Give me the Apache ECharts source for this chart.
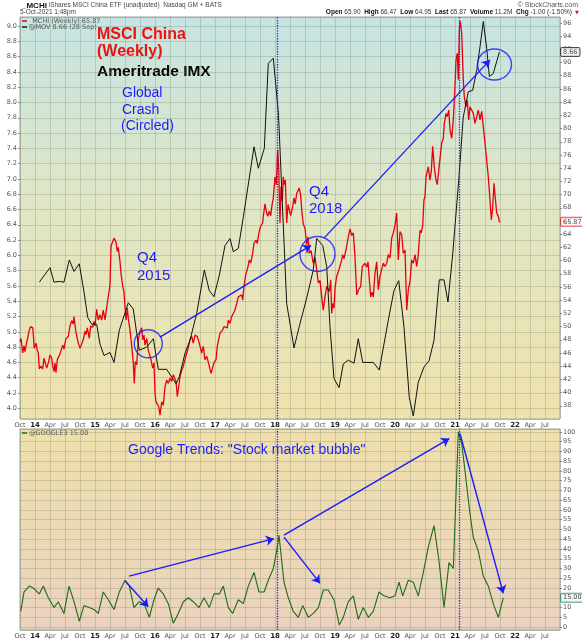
<!DOCTYPE html>
<html>
<head>
<meta charset="utf-8">
<script src="https://cdn.jsdelivr.net/npm/echarts@6/dist/echarts.min.js"></script>
<style>
  html, body { margin: 0; padding: 0; background: #fff; }
  #chart { width: 582px; height: 640px; }
</style>
</head>
<body>
<div id="chart"></div>
<script>
// MCHI weekly close (right scale), dates as decimal years
const redYears = [
  2013.750, 2013.767, 2013.795, 2013.817, 2013.833, 2013.858, 2013.883, 2013.905, 2013.928, 2013.962, 2013.972, 2013.988,
  2014.017, 2014.038, 2014.055, 2014.072, 2014.095, 2014.128, 2014.150, 2014.178, 2014.195, 2014.212, 2014.228, 2014.250,
  2014.278, 2014.295, 2014.317, 2014.333, 2014.350, 2014.372, 2014.405, 2014.428, 2014.462, 2014.483, 2014.500, 2014.517,
  2014.555, 2014.583, 2014.612, 2014.638, 2014.650, 2014.683, 2014.722, 2014.750, 2014.778, 2014.805, 2014.833, 2014.850,
  2014.872, 2014.905, 2014.928, 2014.962, 2014.983, 2015.000, 2015.028, 2015.055, 2015.083, 2015.112, 2015.138, 2015.167,
  2015.195, 2015.222, 2015.250, 2015.267, 2015.295, 2015.317, 2015.350, 2015.372, 2015.388, 2015.417, 2015.433, 2015.462,
  2015.483, 2015.500, 2015.517, 2015.538, 2015.555, 2015.583, 2015.612, 2015.638, 2015.655, 2015.672, 2015.695, 2015.722,
  2015.750, 2015.778, 2015.795, 2015.817, 2015.833, 2015.862, 2015.888, 2015.905, 2015.928, 2015.945, 2015.962, 2015.983,
  2016.000, 2016.017, 2016.038, 2016.062, 2016.083, 2016.112, 2016.138, 2016.167, 2016.195, 2016.222, 2016.250, 2016.278,
  2016.305, 2016.333, 2016.350, 2016.372, 2016.395, 2016.417, 2016.445, 2016.472, 2016.500, 2016.528, 2016.555, 2016.583,
  2016.612, 2016.638, 2016.667, 2016.705, 2016.738, 2016.778, 2016.805, 2016.833, 2016.862, 2016.905, 2016.933, 2016.955,
  2016.983, 2017.017, 2017.038, 2017.083, 2017.128, 2017.150, 2017.183, 2017.205, 2017.222, 2017.250, 2017.278, 2017.305,
  2017.333, 2017.362, 2017.388, 2017.417, 2017.445, 2017.462, 2017.483, 2017.517, 2017.538, 2017.572, 2017.595, 2017.628,
  2017.650, 2017.683, 2017.705, 2017.738, 2017.762, 2017.795, 2017.805, 2017.833, 2017.862, 2017.878, 2017.905, 2017.928,
  2017.950, 2017.972, 2018.000, 2018.022, 2018.045, 2018.062, 2018.083, 2018.100, 2018.122, 2018.138, 2018.155, 2018.172,
  2018.195, 2018.217, 2018.238, 2018.262, 2018.295, 2018.317, 2018.338, 2018.362, 2018.388, 2018.405, 2018.428, 2018.450,
  2018.472, 2018.500, 2018.528, 2018.550, 2018.572, 2018.600, 2018.638, 2018.667, 2018.695, 2018.722, 2018.750, 2018.778,
  2018.805, 2018.833, 2018.862, 2018.905, 2018.928, 2018.945, 2018.962, 2018.983, 2019.000, 2019.028, 2019.055, 2019.072,
  2019.112, 2019.128, 2019.150, 2019.183, 2019.222, 2019.250, 2019.278, 2019.305, 2019.333, 2019.362, 2019.388, 2019.428,
  2019.455, 2019.500, 2019.528, 2019.550, 2019.572, 2019.595, 2019.617, 2019.638, 2019.667, 2019.695, 2019.722, 2019.750,
  2019.778, 2019.805, 2019.833, 2019.862, 2019.888, 2019.917, 2019.945, 2019.972, 2020.000, 2020.028, 2020.055, 2020.083,
  2020.112, 2020.138, 2020.167, 2020.195, 2020.222, 2020.250, 2020.278, 2020.305, 2020.333, 2020.362, 2020.388, 2020.417,
  2020.438, 2020.462, 2020.483, 2020.500, 2020.517, 2020.555, 2020.583, 2020.605, 2020.628, 2020.655, 2020.683, 2020.705,
  2020.733, 2020.778, 2020.805, 2020.822, 2020.850, 2020.872, 2020.895, 2020.917, 2020.945, 2020.972, 2021.000, 2021.017,
  2021.038, 2021.055, 2021.072, 2021.088, 2021.112, 2021.138, 2021.155, 2021.183, 2021.205, 2021.228, 2021.250, 2021.278,
  2021.305, 2021.333, 2021.362, 2021.388, 2021.417, 2021.445, 2021.472, 2021.500, 2021.528, 2021.555, 2021.583, 2021.605,
  2021.628, 2021.650, 2021.672, 2021.695, 2021.722, 2021.738, 2021.760
]
const redValues = [
  47.7, 48.2, 46.0, 47.1, 46.2, 47.5, 48.5, 49.5, 50.0, 49.8, 48.7, 46.7,
  47.5, 46.4, 46.0, 43.6, 44.0, 43.6, 45.2, 45.2, 43.7, 44.0, 44.7, 45.7,
  45.2, 44.0, 43.2, 44.5, 43.0, 45.0, 45.6, 46.2, 47.2, 46.6, 47.5, 48.2,
  48.5, 50.1, 50.9, 50.4, 51.5, 49.1, 47.5, 46.7, 46.9, 48.0, 49.3, 48.8,
  49.8, 48.2, 50.1, 49.9, 50.8, 50.1, 52.6, 51.0, 51.8, 51.0, 52.5, 51.0,
  52.9, 52.7, 56.3, 62.2, 61.9, 63.4, 62.8, 61.4, 62.0, 59.8, 58.1, 56.1,
  55.3, 53.0, 51.0, 52.8, 51.2, 49.5, 47.0, 44.5, 41.4, 44.7, 44.2, 48.0,
  49.3, 49.8, 48.0, 48.7, 47.2, 48.2, 46.4, 46.7, 45.2, 45.5, 43.7, 44.5,
  39.9, 38.6, 38.9, 37.9, 36.6, 38.6, 38.1, 40.9, 41.9, 41.4, 42.2, 41.7,
  42.7, 42.4, 41.7, 39.4, 40.9, 42.4, 43.4, 44.0, 45.0, 46.0, 46.8, 48.0,
  48.5, 47.5, 48.7, 48.5, 47.5, 46.0, 47.0, 45.0, 45.5, 44.0, 42.9, 42.7,
  44.5, 45.0, 47.0, 49.0, 49.5, 50.0, 50.0, 49.8, 51.0, 50.5, 51.5, 51.8,
  52.5, 53.5, 54.5, 54.3, 54.8, 54.0, 56.1, 58.1, 58.6, 60.1, 59.6, 61.1,
  62.6, 63.1, 62.6, 64.5, 65.2, 65.7, 66.7, 68.6, 67.2, 66.7, 67.5, 66.8,
  68.4, 69.5, 72.7, 71.5, 76.8, 74.0, 65.7, 71.2, 69.0, 72.7, 71.5, 72.2,
  65.7, 68.5, 67.7, 66.8, 68.2, 69.5, 68.6, 70.2, 70.0, 71.0, 69.8, 67.2,
  65.5, 64.9, 62.4, 63.6, 61.1, 61.5, 59.6, 60.5, 58.6, 56.6, 57.0, 54.5,
  52.5, 54.5, 56.1, 55.3, 57.1, 52.0, 53.5, 52.8, 55.8, 57.6, 58.3, 58.6,
  60.1, 60.9, 60.3, 61.6, 63.6, 64.8, 63.8, 64.2, 60.6, 54.8, 55.5, 56.1,
  59.1, 59.6, 59.0, 59.8, 57.1, 54.5, 55.2, 54.5, 58.1, 59.8, 55.6, 57.6,
  57.8, 59.6, 59.1, 59.6, 60.9, 60.4, 63.4, 64.2, 65.4, 67.2, 60.1, 64.4,
  63.9, 61.1, 61.6, 52.5, 55.6, 56.8, 60.1, 59.6, 60.9, 59.1, 60.9, 64.6,
  64.2, 65.4, 69.2, 69.7, 72.7, 74.2, 72.2, 73.5, 77.3, 74.2, 72.2, 71.5,
  74.0, 77.8, 78.5, 80.8, 82.3, 81.8, 82.8, 79.8, 78.5, 81.3, 86.4, 90.4,
  91.4, 87.4, 94.9, 96.3, 94.4, 87.4, 84.8, 83.3, 84.3, 81.3, 83.3, 83.5,
  82.3, 80.8, 81.8, 82.8, 81.3, 82.6, 80.3, 77.8, 77.5, 72.7, 69.2, 66.2,
  68.0, 71.7, 71.6, 67.2, 66.7, 65.9, 65.87
]

// Ameritrade IMX (left scale)
const imxYears = [
  2014.072, 2014.250, 2014.317, 2014.405, 2014.483, 2014.572, 2014.650, 2014.738, 2014.817, 2014.878, 2014.945,
  2015.028, 2015.083, 2015.150, 2015.250, 2015.317, 2015.405, 2015.555, 2015.638, 2015.695, 2015.738, 2015.862, 2015.972,
  2016.055, 2016.195, 2016.278, 2016.350, 2016.405, 2016.500, 2016.583, 2016.695, 2016.822, 2016.905, 2016.983,
  2017.072, 2017.167, 2017.250, 2017.305, 2017.388, 2017.472, 2017.650, 2017.722, 2017.822, 2017.888, 2017.972,
  2018.058, 2018.195, 2018.317, 2018.417, 2018.528, 2018.638, 2018.695, 2018.795, 2018.862, 2018.917, 2018.983,
  2019.067, 2019.138, 2019.222, 2019.317, 2019.388, 2019.462, 2019.638, 2019.738, 2019.888, 2019.983,
  2020.062, 2020.150, 2020.238, 2020.305, 2020.388, 2020.483, 2020.567, 2020.650, 2020.738, 2020.817, 2020.883, 2020.962,
  2021.067, 2021.138, 2021.222, 2021.295, 2021.362, 2021.417, 2021.472, 2021.528, 2021.572, 2021.638, 2021.740
]
const imxValues = [
  5.65, 5.84, 5.65, 5.66, 5.65, 5.94, 5.79, 5.89, 5.52, 5.19, 5.10,
  5.10, 4.84, 4.69, 4.73, 4.60, 5.02, 5.38, 5.30, 4.98, 4.76, 4.80, 4.91,
  4.51, 4.51, 4.41, 4.32, 4.41, 4.72, 4.89, 5.24, 5.81, 5.54, 5.46,
  5.74, 6.13, 6.22, 6.05, 6.09, 6.50, 7.42, 7.14, 7.40, 8.51, 8.58,
  7.85, 5.37, 4.79, 5.11, 5.44, 5.81, 6.22, 6.13, 5.85, 5.06, 4.39,
  4.27, 4.58, 4.63, 4.59, 4.91, 4.60, 4.60, 4.50, 5.15, 5.54,
  5.67, 5.06, 4.14, 3.90, 4.34, 4.54, 4.62, 4.89, 5.68, 5.68, 5.39, 6.02,
  7.03, 7.81, 8.14, 8.16, 8.42, 8.73, 9.06, 8.71, 8.34, 8.38, 8.66
]

// Google Trends "stock market bubble"
const googleYears = [
  2013.762, 2013.817, 2013.905, 2013.972, 2014.072, 2014.138, 2014.222, 2014.317, 2014.388, 2014.483, 2014.567, 2014.650,
  2014.738, 2014.817, 2014.905, 2014.983, 2015.055, 2015.138, 2015.222, 2015.317, 2015.405, 2015.500, 2015.572, 2015.650,
  2015.738, 2015.817, 2015.905, 2015.983, 2016.055, 2016.138, 2016.222, 2016.305, 2016.388, 2016.472, 2016.555, 2016.638,
  2016.733, 2016.817, 2016.905, 2016.983, 2017.072, 2017.138, 2017.222, 2017.295, 2017.388, 2017.472, 2017.555, 2017.650,
  2017.733, 2017.817, 2017.888, 2017.972, 2018.028, 2018.067, 2018.150, 2018.222, 2018.305, 2018.388, 2018.462, 2018.555,
  2018.638, 2018.722, 2018.805, 2018.888, 2018.983, 2019.072, 2019.138, 2019.222, 2019.305, 2019.388, 2019.472, 2019.555,
  2019.638, 2019.733, 2019.817, 2019.917, 2020.000, 2020.067, 2020.128, 2020.222, 2020.305, 2020.388, 2020.472, 2020.555,
  2020.650, 2020.733, 2020.817, 2020.900, 2020.972, 2021.055, 2021.112, 2021.167, 2021.238, 2021.305, 2021.388, 2021.472,
  2021.555, 2021.638, 2021.722, 2021.805
]
const googleValues = [
  8, 18, 21, 20, 17, 21, 15, 10, 13, 7, 21, 13,
  3, 11, 10, 9, 7, 18, 14, 9, 18, 24, 21, 10,
  13, 12, 5, 14, 20, 17, 12, 2, 7, 13, 15, 13,
  10, 15, 10, 17, 17, 21, 10, 7, 14, 12, 21, 28,
  18, 18, 24, 30, 39, 47, 23, 15, 8, 5, 11, 5,
  7, 10, 19, 19, 14, 1, 5, 13, 16, 4, 10, 5,
  8, 18, 16, 15, 16, 23, 16, 24, 23, 16, 28, 41,
  52, 34, 10, 33, 30, 100, 94, 80, 61, 46, 39, 26,
  21, 12, 5, 15
]

// dotted marker dates
const markerYears = [2018.038, 2021.07]

// annotations (decimal year, value)
const circleYears = [2015.888, 2018.708, 2021.658]
const circleValues = [47.4, 61.0, 89.7]
const arrowsTop = [[2016.083, 48.4, 2018.60, 62.3], [2018.817, 63.4, 2021.583, 90.4]]
const arrowsBottom = [
  [2015.567, 26.1, 2017.983, 45.3],
  [2015.50, 23.7, 2015.888, 10.4],
  [2018.15, 47.1, 2020.905, 96.6],
  [2018.15, 46.1, 2018.75, 22.4],
  [2021.083, 99.2, 2021.805, 17.3]
]

const pairs = (xs, ys) => xs.map((x, i) => [x, ys[i]])
const BLUE = '#1a1aff'
const GRIDC = 'rgba(110,125,105,0.28)'
const LBL = '#555'
const FONT = 'DejaVu Sans'
const HFONT = 'Liberation Sans'

function quarterLabel (v) {
  const n = Math.round(v * 4)
  const q = ((n % 4) + 4) % 4
  const yr = (n - q) / 4
  if (q === 0) return '{yr|' + String(yr).slice(2) + '}'
  return ['', 'Apr', 'Jul', 'Oct'][q]
}

function xAxisFor (idx) {
  return {
    type: 'value',
    gridIndex: idx,
    min: 2013.75,
    max: 2022.75,
    interval: 0.25,
    axisLine: { show: false },
    axisTick: { show: false },
    axisLabel: {
      formatter: quarterLabel,
      showMaxLabel: false,
      color: LBL,
      fontSize: 6.5,
      fontFamily: FONT,
      margin: 3,
      rich: { yr: { fontWeight: 'bold', fontSize: 7, color: '#222', fontFamily: FONT } }
    },
    splitLine: { show: true, lineStyle: { color: GRIDC, width: 1 } }
  }
}

const yLabel = (fmt) => ({
  formatter: fmt,
  showMinLabel: false,
  showMaxLabel: false,
  color: LBL,
  fontSize: 6.5,
  fontFamily: FONT,
  margin: 3
})

const lastRed = redValues[redValues.length - 1]
const lastImx = imxValues[imxValues.length - 1]
const lastGoogle = googleValues[googleValues.length - 1]

function valueBox (xIdx, yIdx, val, border, bg) {
  return {
    type: 'scatter',
    xAxisIndex: xIdx,
    yAxisIndex: yIdx,
    data: [[2022.75, val]],
    symbolSize: 0,
    clip: false,
    silent: true,
    z: 10,
    label: {
      show: true,
      position: 'right',
      distance: 1,
      formatter: val.toFixed(2),
      backgroundColor: bg,
      borderColor: border,
      borderWidth: 1,
      borderRadius: 1,
      padding: [1, 2, 0, 2],
      fontSize: 6.5,
      fontFamily: FONT,
      color: '#112'
    }
  }
}

const markLineCfg = {
  silent: true,
  symbol: 'none',
  label: { show: false },
  lineStyle: { type: 'dotted', color: BLUE, width: 1.3 },
  data: markerYears.map(v => ({ xAxis: v }))
}

const chart = echarts.init(document.getElementById('chart'))
const option = {
  animation: false,
  textStyle: { fontFamily: FONT },
  grid: [
    {
      left: 20, right: 22, top: 17, height: 402,
      show: true,
      borderColor: '#9aa69a',
      borderWidth: 1,
      backgroundColor: {
        type: 'linear', x: 0, y: 0, x2: 0, y2: 1,
        colorStops: [
          { offset: 0, color: '#c6e4e2' },
          { offset: 0.45, color: '#dfe6c6' },
          { offset: 1, color: '#efe2ac' }
        ]
      }
    },
    {
      left: 20, right: 22, top: 429, height: 202,
      show: true,
      borderColor: '#9aa69a',
      borderWidth: 1,
      backgroundColor: {
        type: 'linear', x: 0, y: 0, x2: 0, y2: 1,
        colorStops: [
          { offset: 0, color: '#eee0ab' },
          { offset: 1, color: '#ebd2bf' }
        ]
      }
    }
  ],
  xAxis: [xAxisFor(0), xAxisFor(1)],
  yAxis: [
    {
      type: 'value', gridIndex: 0, position: 'left',
      min: 3.86, max: 9.118, splitNumber: 27,
      axisLine: { show: false },
      axisTick: { show: true, length: 2, lineStyle: { color: '#888' } },
      axisLabel: yLabel(v => v.toFixed(1)),
      splitLine: { show: true, lineStyle: { color: GRIDC } }
    },
    {
      type: 'value', gridIndex: 0, position: 'right',
      min: 36, max: 96.9, splitNumber: 30,
      axisLine: { show: false },
      axisTick: { show: true, length: 2, lineStyle: { color: '#888' } },
      axisLabel: yLabel(v => String(Math.round(v))),
      splitLine: { show: false }
    },
    {
      type: 'value', gridIndex: 1, position: 'right',
      min: -1.5, max: 101.5, splitNumber: 20,
      axisLine: { show: false },
      axisTick: { show: true, length: 2, lineStyle: { color: '#888' } },
      axisLabel: yLabel(v => String(Math.round(v))),
      splitLine: { show: true, lineStyle: { color: GRIDC } }
    }
  ],
  series: [
    {
      name: 'MCHI', type: 'line', xAxisIndex: 0, yAxisIndex: 1,
      data: pairs(redYears, redValues),
      showSymbol: false, symbol: 'none',
      lineStyle: { color: '#e8000c', width: 1.3 },
      z: 3,
      markLine: markLineCfg
    },
    {
      name: 'IMX', type: 'line', xAxisIndex: 0, yAxisIndex: 0,
      data: pairs(imxYears, imxValues),
      symbol: 'none',
      lineStyle: { color: '#111', width: 1 },
      z: 4
    },
    {
      name: 'Google', type: 'line', xAxisIndex: 1, yAxisIndex: 2,
      data: pairs(googleYears, googleValues),
      symbol: 'none',
      lineStyle: { color: '#1d6b12', width: 1.1 },
      z: 3,
      markLine: markLineCfg
    },
    {
      type: 'scatter', xAxisIndex: 0, yAxisIndex: 1,
      data: pairs(circleYears, circleValues),
      symbol: 'circle',
      symbolSize: (v, p) => [[28, 28], [35, 35], [34, 31]][p.dataIndex],
      itemStyle: { color: 'rgba(0,0,0,0)', borderColor: BLUE, borderWidth: 1.4 },
      silent: true,
      z: 6
    },
    {
      type: 'lines', coordinateSystem: 'cartesian2d', xAxisIndex: 0, yAxisIndex: 1,
      data: arrowsTop.map(a => ({ coords: [[a[0], a[1]], [a[2], a[3]]] })),
      symbol: ['none', 'arrow'], symbolSize: 8,
      lineStyle: { color: BLUE, width: 1.3, opacity: 1, curveness: 0 },
      silent: true, z: 6
    },
    {
      type: 'lines', coordinateSystem: 'cartesian2d', xAxisIndex: 1, yAxisIndex: 2,
      data: arrowsBottom.map(a => ({ coords: [[a[0], a[1]], [a[2], a[3]]] })),
      symbol: ['none', 'arrow'], symbolSize: 8,
      lineStyle: { color: BLUE, width: 1.4, opacity: 1, curveness: 0 },
      silent: true, z: 6
    },
    valueBox(0, 0, lastImx, '#222', '#f4f8f4'),
    valueBox(0, 1, lastRed, '#e02020', '#ffffff'),
    valueBox(1, 2, lastGoogle, '#2a8a70', '#f4fbf8')
  ],
  graphic: [
    // header
    {
      type: 'text', x: 22, y: 5.5,
      style: {
        text: '{b|_MCHI} iShares MSCI China ETF (unadjusted)  Nasdaq GM + BATS',
        textVerticalAlign: 'middle', fill: '#444', font: '6.5px "Liberation Sans"',
        rich: { b: { fontWeight: 'bold', fontSize: 8, fill: '#111', fontFamily: HFONT } }
      }
    },
    {
      type: 'text', x: 578, y: 5.5,
      style: { text: '© StockCharts.com', textAlign: 'right', textVerticalAlign: 'middle', fill: '#555', font: '7px "Liberation Sans"' }
    },
    {
      type: 'text', x: 20, y: 12.5,
      style: { text: '5-Oct-2021 1:48pm', textVerticalAlign: 'middle', fill: '#444', font: '6.5px "Liberation Sans"' }
    },
    {
      type: 'text', x: 572, y: 12.5,
      style: {
        text: '{b|Open} 65.90  {b|High} 66.47  {b|Low} 64.95  {b|Last} 65.87  {b|Volume} 11.2M  {b|Chg} -1.00 (-1.50%)',
        textAlign: 'right', textVerticalAlign: 'middle', fill: '#333', font: '6.5px "Liberation Sans"',
        rich: { b: { fontWeight: 'bold', fontSize: 6.5, fill: '#111', fontFamily: HFONT } }
      }
    },
    {
      type: 'text', x: 577, y: 12.5,
      style: { text: '▼', textAlign: 'center', textVerticalAlign: 'middle', fill: '#d01010', font: '5px "DejaVu Sans"' }
    },
    // panel legends
    { type: 'line', shape: { x1: 22, y1: 21, x2: 27, y2: 21 }, style: { stroke: '#e8000c', lineWidth: 1.5 } },
    {
      type: 'text', x: 29, y: 21,
      style: { text: '_MCHI (Weekly) 65.87', textVerticalAlign: 'middle', fill: '#555', font: '6.5px "DejaVu Sans"' }
    },
    { type: 'line', shape: { x1: 22, y1: 27, x2: 27, y2: 27 }, style: { stroke: '#111', lineWidth: 1.5 } },
    {
      type: 'text', x: 29, y: 27,
      style: { text: '@MOV 8.66 (28 Sep)', textVerticalAlign: 'middle', fill: '#555', font: '6.5px "DejaVu Sans"' }
    },
    { type: 'line', shape: { x1: 22, y1: 433, x2: 27, y2: 433 }, style: { stroke: '#1d6b12', lineWidth: 1.5 } },
    {
      type: 'text', x: 29, y: 433,
      style: { text: '@GOOGLE3 15.00', textVerticalAlign: 'middle', fill: '#555', font: '6.5px "DejaVu Sans"' }
    },
    // author notes
    {
      type: 'text', x: 97, y: 35,
      style: { text: 'MSCI China', textVerticalAlign: 'middle', fill: '#ee1111', font: 'bold 16px "Liberation Sans"' }
    },
    {
      type: 'text', x: 97, y: 52,
      style: { text: '(Weekly)', textVerticalAlign: 'middle', fill: '#ee1111', font: 'bold 16px "Liberation Sans"' }
    },
    {
      type: 'text', x: 97, y: 72,
      style: { text: 'Ameritrade IMX', textVerticalAlign: 'middle', fill: '#000', font: 'bold 15.5px "Liberation Sans"' }
    },
    {
      type: 'text', x: 122, y: 93,
      style: { text: 'Global', textVerticalAlign: 'middle', fill: BLUE, font: '14px "Liberation Sans"' }
    },
    {
      type: 'text', x: 122, y: 110,
      style: { text: 'Crash', textVerticalAlign: 'middle', fill: BLUE, font: '14px "Liberation Sans"' }
    },
    {
      type: 'text', x: 121, y: 126,
      style: { text: '(Circled)', textVerticalAlign: 'middle', fill: BLUE, font: '14px "Liberation Sans"' }
    },
    {
      type: 'text', x: 137, y: 258,
      style: { text: 'Q4', textVerticalAlign: 'middle', fill: BLUE, font: '15px "Liberation Sans"' }
    },
    {
      type: 'text', x: 137, y: 276,
      style: { text: '2015', textVerticalAlign: 'middle', fill: BLUE, font: '15px "Liberation Sans"' }
    },
    {
      type: 'text', x: 309, y: 192,
      style: { text: 'Q4', textVerticalAlign: 'middle', fill: BLUE, font: '15px "Liberation Sans"' }
    },
    {
      type: 'text', x: 309, y: 209,
      style: { text: '2018', textVerticalAlign: 'middle', fill: BLUE, font: '15px "Liberation Sans"' }
    },
    {
      type: 'text', x: 128, y: 450,
      style: { text: 'Google Trends: "Stock market bubble"', textVerticalAlign: 'middle', fill: BLUE, font: '14px "Liberation Sans"' }
    }
  ]
}
chart.setOption(option)
</script>
</body>
</html>
